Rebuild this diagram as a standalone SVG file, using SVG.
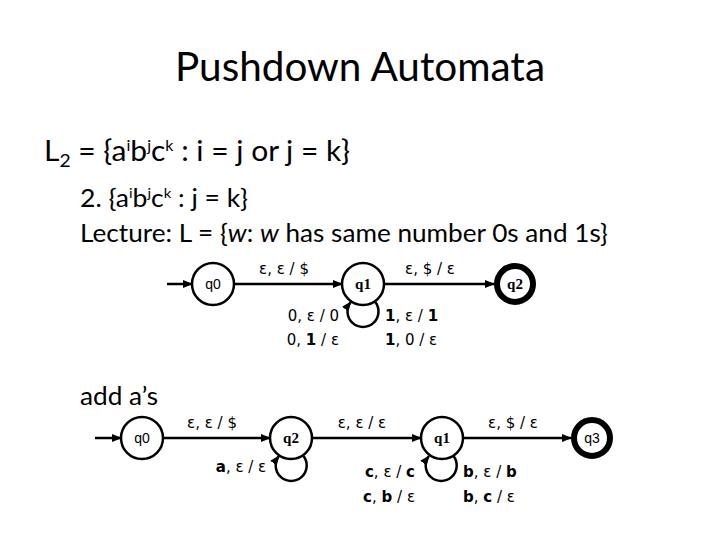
<svg xmlns="http://www.w3.org/2000/svg" width="720" height="540" viewBox="0 0 720 540">
<style>
.h{font-family:Lato,"Open Sans","Liberation Sans",sans-serif;fill:#000}
.st{fill:#fff;stroke:#000;stroke-width:2.5}
.acc{fill:#fff;stroke:#000;stroke-width:6}
.qs{font-family:"Liberation Sans",Arial,sans-serif;font-size:14px;text-anchor:middle}
.qb{font-family:"Liberation Serif","Times New Roman",serif;font-size:15px;font-weight:bold;text-anchor:middle}
.e{fill:none;stroke:#000;stroke-width:2.5}
.lb{font-family:"DejaVu Sans",Verdana,sans-serif;font-size:15px;fill:#000}
.b{font-weight:bold}
</style>
<defs>
<marker id="ah" markerWidth="10" markerHeight="8" refX="9" refY="4" orient="auto" markerUnits="userSpaceOnUse">
<path d="M0,0 L10,4 L0,8 Z" fill="#000"/>
</marker>
</defs>
<rect width="720" height="540" fill="#fff"/>

<text class="h" x="360" y="81" font-size="40" text-anchor="middle" textLength="370" lengthAdjust="spacingAndGlyphs">Pushdown Automata</text>
<text class="h" x="44" y="161" font-size="28" textLength="306" lengthAdjust="spacingAndGlyphs">L<tspan font-size="18" dy="6">2</tspan><tspan dy="-6"> = {a</tspan><tspan font-size="15" dy="-10">i</tspan><tspan dy="10">b</tspan><tspan font-size="15" dy="-10">j</tspan><tspan dy="10">c</tspan><tspan font-size="15" dy="-10">k</tspan><tspan dy="10"> : i = j or j = k}</tspan></text>
<text class="h" x="80" y="207" font-size="25" textLength="168" lengthAdjust="spacingAndGlyphs">2. {a<tspan font-size="14" dy="-9">i</tspan><tspan dy="9">b</tspan><tspan font-size="14" dy="-9">j</tspan><tspan dy="9">c</tspan><tspan font-size="14" dy="-9">k</tspan><tspan dy="9"> : j = k}</tspan></text>
<text class="h" x="80" y="242" font-size="25" textLength="528" lengthAdjust="spacingAndGlyphs">Lecture: L = {<tspan font-style="italic">w</tspan>: <tspan font-style="italic">w</tspan> has same number 0s and 1s}</text>
<text class="h" x="80" y="405" font-size="25" textLength="78" lengthAdjust="spacingAndGlyphs">add a’s</text>

<g id="connectors">
<line class="e" x1="167" y1="284" x2="192" y2="284" marker-end="url(#ah)"/>
<line class="e" x1="234" y1="284" x2="342" y2="284" marker-end="url(#ah)"/>
<line class="e" x1="384" y1="284" x2="494" y2="284" marker-end="url(#ah)"/>
<path class="e" d="M375.3,302 A15.5,15.5 0 1 1 350.7,302" marker-end="url(#ah)"/>
<line class="e" x1="95" y1="438" x2="121" y2="438" marker-end="url(#ah)"/>
<line class="e" x1="163" y1="438" x2="270" y2="438" marker-end="url(#ah)"/>
<line class="e" x1="313" y1="438" x2="421" y2="438" marker-end="url(#ah)"/>
<line class="e" x1="464" y1="438" x2="571" y2="438" marker-end="url(#ah)"/>
<path class="e" d="M303.5,456 A15.5,15.5 0 1 1 278.9,456" marker-end="url(#ah)"/>
<path class="e" d="M453.5,456 A15.5,15.5 0 1 1 428.9,456" marker-end="url(#ah)"/>
</g>

<g id="q0_top"><circle class="st" cx="213" cy="284" r="21"/><text class="qs" x="213" y="289">q0</text></g>
<g id="q1_top"><circle class="st" cx="363" cy="284" r="21"/><text class="qb" x="363" y="289">q1</text></g>
<g id="q2_top"><circle class="acc" cx="515" cy="284" r="18"/><text class="qb" x="515" y="289">q2</text></g>

<g id="q0_bot"><circle class="st" cx="142" cy="438" r="21"/><text class="qs" x="142" y="443">q0</text></g>
<g id="q2_bot"><circle class="st" cx="291" cy="438" r="21"/><text class="qb" x="291" y="443">q2</text></g>
<g id="q1_bot"><circle class="st" cx="442" cy="438" r="21"/><text class="qb" x="442" y="443">q1</text></g>
<g id="q3_bot"><circle class="acc" cx="592" cy="438" r="18"/><text class="qs" x="592" y="443">q3</text></g>

<g id="labels">
<text class="lb" x="284" y="274" text-anchor="middle">ε, ε / $</text>
<text class="lb" x="430" y="274" text-anchor="middle">ε, $ / ε</text>
<text class="lb" x="339" y="321" text-anchor="end">0, ε / 0</text>
<text class="lb" x="339" y="345" text-anchor="end">0, <tspan class="b">1</tspan> / ε</text>
<text class="lb" x="385" y="321"><tspan class="b">1</tspan>, ε / <tspan class="b">1</tspan></text>
<text class="lb" x="385" y="345"><tspan class="b">1</tspan>, 0 / ε</text>

<text class="lb" x="212" y="428" text-anchor="middle">ε, ε / $</text>
<text class="lb" x="241" y="472" text-anchor="middle"><tspan class="b">a</tspan>, ε / ε</text>
<text class="lb" x="362" y="428" text-anchor="middle">ε, ε / ε</text>
<text class="lb" x="513" y="428" text-anchor="middle">ε, $ / ε</text>
<text class="lb" x="415" y="477" text-anchor="end"><tspan class="b">c</tspan>, ε / <tspan class="b">c</tspan></text>
<text class="lb" x="415" y="502" text-anchor="end"><tspan class="b">c</tspan>, <tspan class="b">b</tspan> / ε</text>
<text class="lb" x="463" y="477"><tspan class="b">b</tspan>, ε / <tspan class="b">b</tspan></text>
<text class="lb" x="463" y="502"><tspan class="b">b</tspan>, <tspan class="b">c</tspan> / ε</text>
</g>
</svg>
